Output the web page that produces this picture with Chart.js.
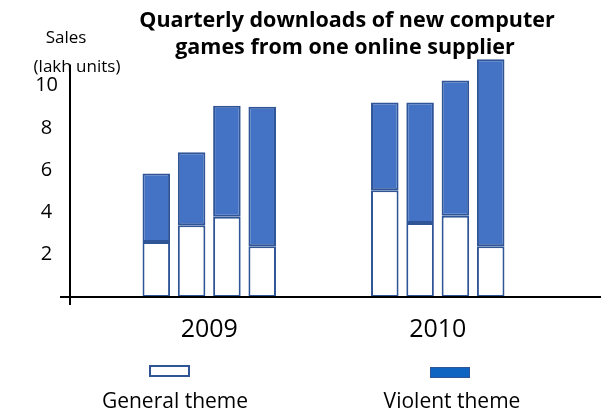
<!DOCTYPE html>
<html>
<head>
<meta charset="utf-8">
<script src="https://cdn.jsdelivr.net/npm/chart.js@4.4.0/dist/chart.umd.min.js"></script>
<style>
  html, body { margin: 0; padding: 0; background: #fff; overflow: hidden; }
  #wrap { position: relative; width: 601px; height: 416px; }
</style>
</head>
<body>
<div id="wrap"><canvas id="c" width="601" height="416"></canvas></div>
<script>
// ---- data (lakh units), quarters Q1..Q4 ----
const years = ['2009', '2010'];
const quarters = ['Q1', 'Q2', 'Q3', 'Q4'];
const general2009 = [2.6, 3.4, 3.8, 2.4];
const violent2009 = [3.25, 3.45, 5.25, 6.6];
const general2010 = [5.05, 3.5, 3.85, 2.4];
const violent2010 = [4.15, 5.7, 6.4, 8.85];
const yTicks = [2, 4, 6, 8, 10];
const seriesNames = ['General theme', 'Violent theme'];
const titleLines = ['Quarterly downloads of new computer', 'games from one online supplier'];
const axisLabel = ['Sales', '(lakh units)'];

const FONT = '"Open Sans", "Liberation Sans", sans-serif';
const BLUE = '#4472C4', EDGE = '#2F5597';

const datasets = [];
quarters.forEach((q, i) => {
  datasets.push({ label: seriesNames[0], stack: q, data: [general2009[i], general2010[i]],
    backgroundColor: '#ffffff', borderColor: EDGE, borderWidth: 2, borderSkipped: false });
  datasets.push({ label: seriesNames[1], stack: q, data: [violent2009[i], violent2010[i]],
    backgroundColor: BLUE, borderColor: EDGE, borderWidth: 2, borderSkipped: false });
});

// axes lines, title, axis caption and legend
const decor = {
  id: 'decor',
  afterDraw(chart) {
    const { ctx, chartArea: a, scales: { y } } = chart;
    const y0 = y.getPixelForValue(0);
    const ax = a.left - 25;
    ctx.save();
    ctx.strokeStyle = '#000';
    ctx.lineWidth = 2;
    ctx.beginPath();
    ctx.moveTo(ax, y.getPixelForValue(11));
    ctx.lineTo(ax, y0 + 8);
    ctx.moveTo(ax - 10, y0);
    ctx.lineTo(chart.width, y0);
    ctx.stroke();

    ctx.fillStyle = '#000';
    ctx.textAlign = 'center';
    ctx.textBaseline = 'middle';
    ctx.font = 'bold 21.5px ' + FONT;
    ctx.fillText(titleLines[0], 347, 21);
    ctx.fillText(titleLines[1], 345, 48);

    ctx.font = '17px ' + FONT;
    ctx.fillText(axisLabel[0], 66, 38);
    ctx.fillText(axisLabel[1], 77, 67);

    // legend
    ctx.lineWidth = 2;
    ctx.strokeStyle = EDGE;
    ctx.fillStyle = '#fff';
    ctx.fillRect(150, 366, 39, 10);
    ctx.strokeRect(150, 366, 39, 10);
    ctx.fillStyle = '#0E64C0';
    ctx.lineWidth = 1;
    ctx.fillRect(430.5, 367.5, 39, 10);
    ctx.strokeRect(430.5, 367.5, 39, 10);

    ctx.fillStyle = '#000';
    ctx.font = '21px ' + FONT;
    ctx.fillText(seriesNames[0], 175, 402);
    ctx.fillText(seriesNames[1], 452, 402);
    ctx.restore();
  }
};

new Chart(document.getElementById('c'), {
  type: 'bar',
  data: { labels: years, datasets },
  plugins: [decor],
  options: {
    responsive: false,
    animation: false,
    events: [],
    layout: { padding: { top: 54, left: 0, right: 49, bottom: 61 } },
    datasets: { bar: { categoryPercentage: 0.618, barPercentage: 0.78 } },
    plugins: { legend: { display: false }, title: { display: false }, tooltip: { enabled: false } },
    scales: {
      x: {
        stacked: true,
        grid: { display: false },
        border: { display: false },
        ticks: { color: '#000', font: { size: 25, family: FONT }, padding: 10 }
      },
      y: {
        stacked: true,
        min: 0, max: 11.5,
        grid: { display: false },
        border: { display: false },
        afterFit: s => { s.width = 95; },
        afterBuildTicks: s => { s.ticks = yTicks.map(v => ({ value: v })); },
        ticks: { color: '#000', font: { size: 20, family: FONT }, padding: 29, crossAlign: 'center' }
      }
    }
  }
});
</script>
</body>
</html>
